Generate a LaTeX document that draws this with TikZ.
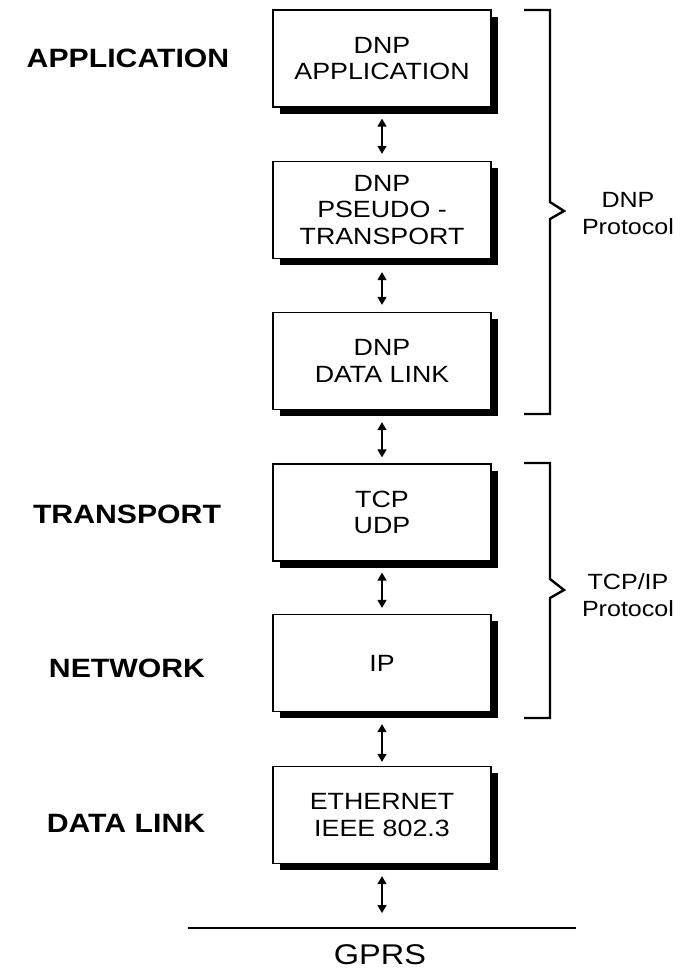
\documentclass[tikz,border=0pt]{standalone}
\usepackage{fontspec}
\setmainfont[FakeStretch=1.14]{Liberation Sans}
\usetikzlibrary{shadows,arrows.meta}
\begin{document}
\begin{tikzpicture}[x=1pt,y=-1pt,
  layerbox/.style={draw=black, line width=1.3pt, fill=white, minimum width=218pt, minimum height=97pt,
    align=center, inner sep=0pt, font=\fontsize{23.5}{26.5}\selectfont,
    drop shadow={shadow xshift=6.5pt, shadow yshift=-6.5pt, fill=black, opacity=1}},
  leftlabel/.style={anchor=base, font=\fontsize{26.5}{30}\selectfont\bfseries},
  rightlabel/.style={align=center, inner sep=0pt, font=\fontsize{22}{27}\selectfont},
  dblarrow/.style={line width=1.6pt, {Triangle[length=8pt,width=9pt]}-{Triangle[length=8pt,width=9pt]}},
  bracket/.style={line width=2.4pt, line join=miter}
]
\useasboundingbox (0,0) rectangle (685,970);

% layer boxes
\node[layerbox] (b1) at (382,58.5) {DNP\\APPLICATION};
\node[layerbox] (b2) at (382,210) {DNP\\PSEUDO -\\TRANSPORT};
\node[layerbox] (b3) at (382,361) {DNP\\DATA LINK};
\node[layerbox] (b4) at (382,512.5) {TCP\\UDP};
\node[layerbox] (b5) at (382,663) {IP};
\node[layerbox] (b6) at (382,815) {ETHERNET\\IEEE 802.3};

% arrows between layers
\draw[dblarrow] ([yshift=-11pt]b1.south) -- ([yshift=7pt]b2.north);
\draw[dblarrow] ([yshift=-13pt]b2.south) -- ([yshift=7pt]b3.north);
\draw[dblarrow] ([yshift=-12pt]b3.south) -- ([yshift=6pt]b4.north);
\draw[dblarrow] ([yshift=-11pt]b4.south) -- ([yshift=6pt]b5.north);
\draw[dblarrow] ([yshift=-12pt]b5.south) -- ([yshift=4pt]b6.north);
\coordinate (gprsarrow) at (382,913);
\draw[dblarrow] ([yshift=-12pt]b6.south) -- (gprsarrow);

% GPRS line
\coordinate (gl) at (188,928);
\coordinate (gr) at (576,928);
\draw[line width=1.6pt] (gl) -- (gr);
\node[anchor=base, inner sep=0pt, font=\fontsize{28.5}{30}\selectfont] (gprs) at (380,964) {GPRS};

% left labels
\node[leftlabel] (lapp) at (128,67) {APPLICATION};
\node[leftlabel] (ltra) at (127,523) {TRANSPORT};
\node[leftlabel] (lnet) at (127,677) {NETWORK};
\node[leftlabel] (ldl) at (126,832) {DATA LINK};

% brackets
\coordinate (d1) at (524,10);
\coordinate (d2) at (550,10);
\coordinate (d3) at (550,202);
\coordinate (d4) at (564,211);
\coordinate (d5) at (550,219);
\coordinate (d6) at (550,414);
\coordinate (d7) at (524,414);
\draw[bracket] (d1) -- (d2) -- (d3) -- (d4) -- (d5) -- (d6) -- (d7);

\coordinate (t1) at (524,463);
\coordinate (t2) at (550,463);
\coordinate (t3) at (550,579);
\coordinate (t4) at (564,590);
\coordinate (t5) at (550,598);
\coordinate (t6) at (550,718);
\coordinate (t7) at (524,718);
\draw[bracket] (t1) -- (t2) -- (t3) -- (t4) -- (t5) -- (t6) -- (t7);

% right labels
\node[rightlabel] (rdnp) at (628,214) {DNP\\Protocol};
\node[rightlabel] (rtcp) at (628,595) {TCP/IP\\Protocol};
\end{tikzpicture}
\end{document}
